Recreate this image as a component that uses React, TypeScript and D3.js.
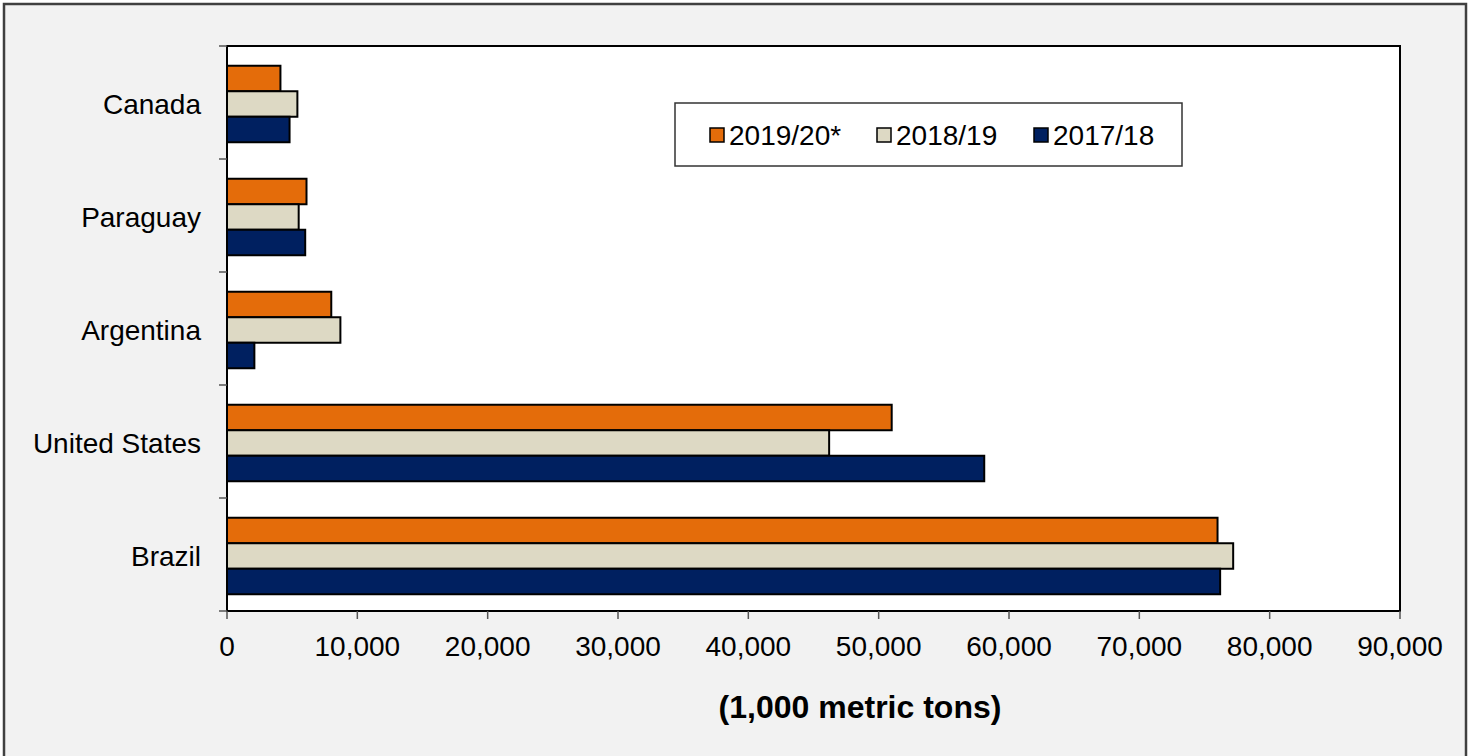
import React from "react";
import * as d3 from "d3";

const countries = ["Canada", "Paraguay", "Argentina", "United States", "Brazil"];
const seriesNames = ["2019/20*", "2018/19", "2017/18"];
const values2019 = [4100, 6100, 8000, 51000, 76000];
const values2018 = [5400, 5500, 8700, 46200, 77200];
const values2017 = [4800, 6000, 2100, 58100, 76200];
const seriesColors = ["#E46C0A", "#DDD9C4", "#002060"];
const xTicks = [0, 10000, 20000, 30000, 40000, 50000, 60000, 70000, 80000, 90000];

const W = 1473;
const H = 756;
const plot = { left: 227, top: 46, right: 1400, bottom: 611 };
const font = "Arial, 'Liberation Sans', sans-serif";

export default function App() {
  const series = [values2019, values2018, values2017];
  const x = d3.scaleLinear().domain([0, 90000]).range([plot.left, plot.right]);
  const y = d3
    .scaleBand<string>()
    .domain(countries)
    .range([plot.top + 1.5, plot.bottom + 1.5])
    .paddingInner(0.323)
    .paddingOuter(0.1615);
  const inner = d3.scaleBand<number>().domain([0, 1, 2]).range([0, y.bandwidth()]);
  const step = (plot.bottom - plot.top) / countries.length;
  const fmt = d3.format(",");

  const legendItems = [
    { x: 710, text: seriesNames[0], color: seriesColors[0] },
    { x: 877, text: seriesNames[1], color: seriesColors[1] },
    { x: 1034, text: seriesNames[2], color: seriesColors[2] },
  ];

  return (
    <svg width={W} height={H} style={{ position: "absolute", left: 0, top: 0 }} fontFamily={font}>
      <rect x={0} y={0} width={W} height={H} fill="#ffffff" />
      {/* outer frame runs past the bottom edge of the canvas */}
      <rect x={4} y={4} width={1462} height={770} fill="#F2F2F2" stroke="#404040" strokeWidth={2.5} />
      <rect x={plot.left} y={plot.top} width={plot.right - plot.left} height={plot.bottom - plot.top} fill="#ffffff" />

      {countries.map((c, i) =>
        series.map((vals, s) => (
          <rect
            key={c + s}
            x={x(0)}
            y={(y(c) as number) + (inner(s) as number)}
            width={x(vals[i]) - x(0)}
            height={inner.bandwidth()}
            fill={seriesColors[s]}
            stroke="#000"
            strokeWidth={2}
          />
        ))
      )}

      <rect x={plot.left} y={plot.top} width={plot.right - plot.left} height={plot.bottom - plot.top} fill="none" stroke="#000" strokeWidth={2} />

      {/* category separators on the left axis */}
      {d3.range(countries.length + 1).map((k) => (
        <line key={k} x1={plot.left - 8} x2={plot.left} y1={plot.top + k * step} y2={plot.top + k * step} stroke="#555" strokeWidth={1.5} />
      ))}
      {countries.map((c) => (
        <text key={c} x={201} y={(y(c) as number) + y.bandwidth() / 2} textAnchor="end" dominantBaseline="central" fontSize={28} fill="#000">
          {c}
        </text>
      ))}

      {xTicks.map((t) => (
        <g key={t}>
          <line x1={x(t)} x2={x(t)} y1={plot.bottom} y2={plot.bottom + 8} stroke="#555" strokeWidth={1.5} />
          <text x={x(t)} y={646} textAnchor="middle" dominantBaseline="central" fontSize={28} fill="#000">
            {fmt(t)}
          </text>
        </g>
      ))}

      <text x={860} y={707} textAnchor="middle" dominantBaseline="central" fontSize={32} fontWeight="bold" fill="#000">
        (1,000 metric tons)
      </text>

      <rect x={675} y={103} width={507} height={63} fill="#ffffff" stroke="#333" strokeWidth={1.5} />
      {legendItems.map((it) => (
        <g key={it.text}>
          <rect x={it.x} y={128} width={14} height={14} fill={it.color} stroke="#000" strokeWidth={1.5} />
          <text x={it.x + 19} y={135} dominantBaseline="central" fontSize={28} fill="#000">
            {it.text}
          </text>
        </g>
      ))}
    </svg>
  );
}
